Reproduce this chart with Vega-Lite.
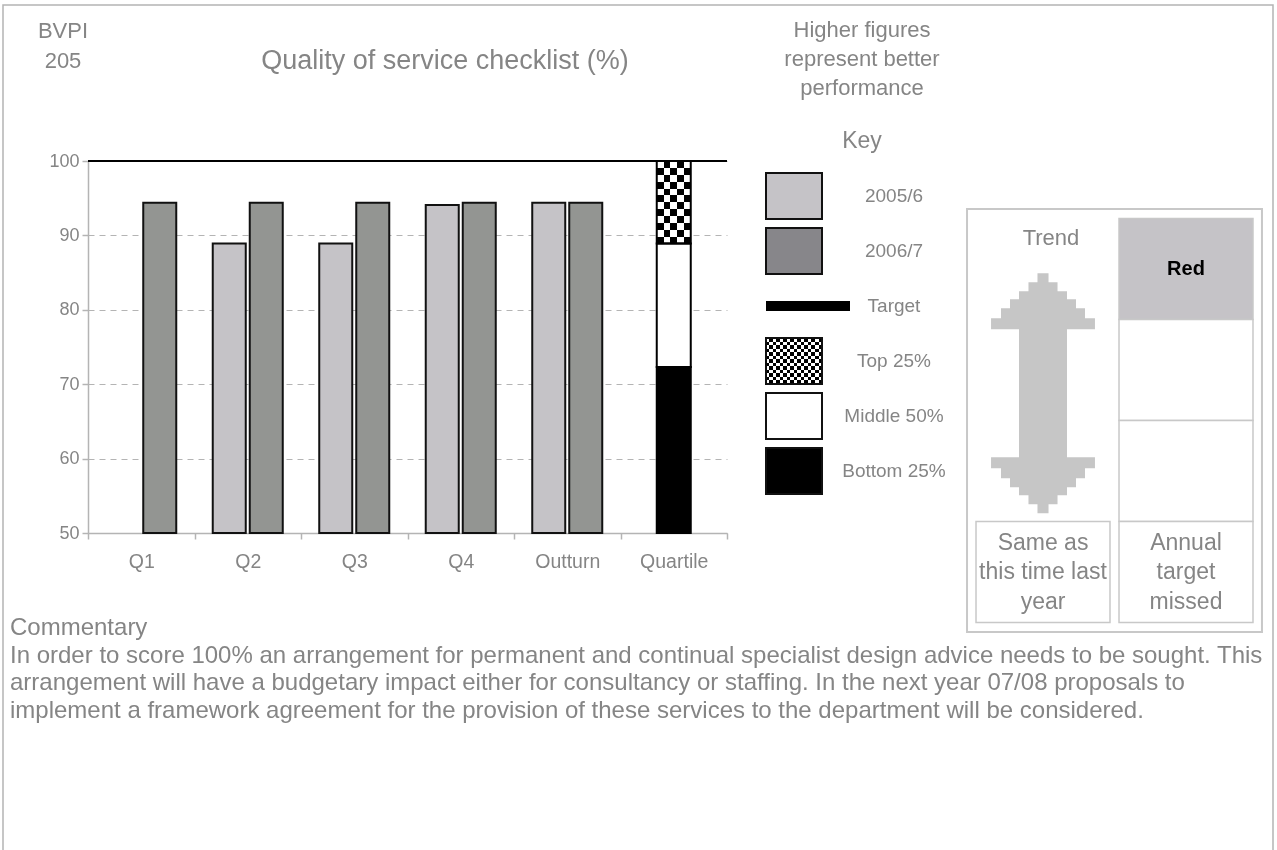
{
  "$schema": "https://vega.github.io/schema/vega-lite/v6.json",
  "width": 1277,
  "height": 850,
  "autosize": {"type": "none"},
  "padding": 0,
  "background": "white",
  "config": {
    "view": {"stroke": null},
    "font": "Liberation Sans",
    "text": {"font": "Liberation Sans", "fill": "#858585"}
  },
  "datasets": {
    "performance": [
      {"period": "Q1", "year": "2006/7", "value": 94.4},
      {"period": "Q2", "year": "2005/6", "value": 88.9},
      {"period": "Q2", "year": "2006/7", "value": 94.4},
      {"period": "Q3", "year": "2005/6", "value": 88.9},
      {"period": "Q3", "year": "2006/7", "value": 94.4},
      {"period": "Q4", "year": "2005/6", "value": 94.1},
      {"period": "Q4", "year": "2006/7", "value": 94.4},
      {"period": "Outturn", "year": "2005/6", "value": 94.4},
      {"period": "Outturn", "year": "2006/7", "value": 94.4}
    ],
    "quartile": [
      {"period": "Quartile", "band": "Bottom 25%", "from": 50, "to": 72.3},
      {"period": "Quartile", "band": "Middle 50%", "from": 72.3, "to": 88.9},
      {"period": "Quartile", "band": "Top 25%", "from": 88.9, "to": 100}
    ],
    "target": [{"target": 100}],
    "key": [
      {"item": "2005/6"},
      {"item": "2006/7"},
      {"item": "Target"},
      {"item": "Top 25%"},
      {"item": "Middle 50%"},
      {"item": "Bottom 25%"}
    ],
    "trendcells": [
      {"column": "Trend", "row": "4", "label": "Same as\nthis time last\nyear"},
      {"column": "Target", "row": "1", "label": "Red"},
      {"column": "Target", "row": "2", "label": ""},
      {"column": "Target", "row": "3", "label": ""},
      {"column": "Target", "row": "4", "label": "Annual\ntarget\nmissed"}
    ],
    "trend": [{"trend": "Same as this time last year"}],
    "notes": [
      {"text": "Commentary\nIn order to score 100% an arrangement for permanent and continual specialist design advice needs to be sought. This\narrangement will have a budgetary impact either for consultancy or staffing. In the next year 07/08 proposals to\nimplement a framework agreement for the provision of these services to the department will be considered."}
    ]
  },
  "layer": [
    {
      "data": {"name": "performance"},
      "mark": {"type": "bar", "stroke": "#111111", "strokeWidth": 2},
      "encoding": {
        "x": {
          "field": "period", "type": "nominal",
          "scale": {"domain": ["Q1", "Q2", "Q3", "Q4", "Outturn", "Quartile"], "range": [88, 727], "paddingInner": 0, "paddingOuter": 0},
          "axis": {"title": null, "orient": "bottom", "offset": -317, "tickBand": "extent", "labelAngle": 0, "labelColor": "#858585", "labelFont": "Liberation Sans", "labelFontSize": 19.5, "labelPadding": 13, "domainColor": "#b4b4b4", "domainWidth": 1.5, "tickColor": "#b4b4b4", "tickWidth": 1.5, "tickSize": 6, "grid": false}
        },
        "xOffset": {"field": "year", "type": "nominal", "scale": {"domain": ["2005/6", "2006/7"], "paddingInner": 0.108, "paddingOuter": 0.493}},
        "y": {
          "field": "value", "type": "quantitative",
          "scale": {"domain": [50, 100], "range": [533, 161], "nice": false, "zero": false},
          "axis": {"title": null, "orient": "left", "offset": -88, "values": [50, 60, 70, 80, 90, 100], "grid": true, "gridDash": [6, 5], "gridColor": "#b4b4b4", "gridWidth": 1, "labelColor": "#858585", "labelFont": "Liberation Sans", "labelFontSize": 18, "labelPadding": 3, "domainColor": "#b4b4b4", "domainWidth": 1.5, "tickColor": "#b4b4b4", "tickWidth": 1.5, "tickSize": 6}
        },
        "y2": {"datum": 50},
        "fill": {"field": "year", "type": "nominal", "scale": {"domain": ["2005/6", "2006/7"], "range": ["#c5c3c7", "#939592"]}, "legend": null}
      }
    },
    {
      "data": {"name": "quartile"},
      "mark": {"type": "bar", "width": 34, "strokeWidth": 0},
      "encoding": {
        "x": {"field": "period", "type": "nominal", "scale": {"domain": ["Q1", "Q2", "Q3", "Q4", "Outturn", "Quartile"], "range": [88, 727], "paddingInner": 0, "paddingOuter": 0}, "axis": null},
        "y": {"field": "to", "type": "quantitative", "scale": {"domain": [50, 100], "range": [533, 161], "nice": false, "zero": false}, "axis": null},
        "y2": {"field": "from"},
        "fill": {"field": "band", "type": "nominal", "scale": {"domain": ["Top 25%", "Middle 50%", "Bottom 25%"], "range": ["#ffffff", "#ffffff", "#000000"]}, "legend": null}
      }
    },
    {
      "data": {"name": "quartile"},
      "transform": [{"filter": "datum.band === 'Top 25%'"}],
      "mark": {
        "type": "bar", "width": 34, "strokeWidth": 0,
        "fill": {"gradient": "linear", "x1": 0, "y1": 0, "x2": 0, "y2": 1, "stops": [
          {"offset": 0, "color": "#000000"}, {"offset": 0.0833, "color": "#000000"},
          {"offset": 0.0833, "color": "#ffffff"}, {"offset": 0.1667, "color": "#ffffff"},
          {"offset": 0.1667, "color": "#000000"}, {"offset": 0.25, "color": "#000000"},
          {"offset": 0.25, "color": "#ffffff"}, {"offset": 0.3333, "color": "#ffffff"},
          {"offset": 0.3333, "color": "#000000"}, {"offset": 0.4167, "color": "#000000"},
          {"offset": 0.4167, "color": "#ffffff"}, {"offset": 0.5, "color": "#ffffff"},
          {"offset": 0.5, "color": "#000000"}, {"offset": 0.5833, "color": "#000000"},
          {"offset": 0.5833, "color": "#ffffff"}, {"offset": 0.6667, "color": "#ffffff"},
          {"offset": 0.6667, "color": "#000000"}, {"offset": 0.75, "color": "#000000"},
          {"offset": 0.75, "color": "#ffffff"}, {"offset": 0.8333, "color": "#ffffff"},
          {"offset": 0.8333, "color": "#000000"}, {"offset": 0.9167, "color": "#000000"},
          {"offset": 0.9167, "color": "#ffffff"}, {"offset": 1, "color": "#ffffff"}
        ]}
      },
      "encoding": {
        "x": {"field": "period", "type": "nominal", "scale": {"domain": ["Q1", "Q2", "Q3", "Q4", "Outturn", "Quartile"], "range": [88, 727], "paddingInner": 0, "paddingOuter": 0}, "axis": null},
        "y": {"field": "to", "type": "quantitative", "scale": {"domain": [50, 100], "range": [533, 161], "nice": false, "zero": false}, "axis": null},
        "y2": {"field": "from"}
      }
    },
    {
      "data": {"name": "quartile"},
      "transform": [{"filter": "datum.band === 'Top 25%'"}],
      "mark": {
        "type": "bar", "width": 34, "strokeWidth": 0, "blend": "difference",
        "fill": {"gradient": "linear", "x1": 0, "y1": 0, "x2": 1, "y2": 0, "stops": [
          {"offset": 0, "color": "#ffffff"}, {"offset": 0.2, "color": "#ffffff"},
          {"offset": 0.2, "color": "#000000"}, {"offset": 0.4, "color": "#000000"},
          {"offset": 0.4, "color": "#ffffff"}, {"offset": 0.6, "color": "#ffffff"},
          {"offset": 0.6, "color": "#000000"}, {"offset": 0.8, "color": "#000000"},
          {"offset": 0.8, "color": "#ffffff"}, {"offset": 1, "color": "#ffffff"}
        ]}
      },
      "encoding": {
        "x": {"field": "period", "type": "nominal", "scale": {"domain": ["Q1", "Q2", "Q3", "Q4", "Outturn", "Quartile"], "range": [88, 727], "paddingInner": 0, "paddingOuter": 0}, "axis": null},
        "y": {"field": "to", "type": "quantitative", "scale": {"domain": [50, 100], "range": [533, 161], "nice": false, "zero": false}, "axis": null},
        "y2": {"field": "from"}
      }
    },
    {
      "data": {"name": "quartile"},
      "mark": {"type": "bar", "width": 34, "fill": "#ffffff", "fillOpacity": 0, "stroke": "#000000", "strokeWidth": 2},
      "encoding": {
        "x": {"field": "period", "type": "nominal", "scale": {"domain": ["Q1", "Q2", "Q3", "Q4", "Outturn", "Quartile"], "range": [88, 727], "paddingInner": 0, "paddingOuter": 0}, "axis": null},
        "y": {"field": "to", "type": "quantitative", "scale": {"domain": [50, 100], "range": [533, 161], "nice": false, "zero": false}, "axis": null},
        "y2": {"field": "from"}
      }
    },
    {
      "data": {"name": "target"},
      "mark": {"type": "rule", "color": "#000000", "strokeWidth": 2},
      "encoding": {
        "x": {"datum": "Q1", "type": "nominal", "bandPosition": 0, "scale": {"domain": ["Q1", "Q2", "Q3", "Q4", "Outturn", "Quartile"], "range": [88, 727], "paddingInner": 0, "paddingOuter": 0}, "axis": null},
        "x2": {"datum": "Quartile", "bandPosition": 1},
        "y": {"field": "target", "type": "quantitative", "scale": {"domain": [50, 100], "range": [533, 161], "nice": false, "zero": false}, "axis": null}
      }
    },
    {
      "data": {"values": [{}]},
      "mark": {"type": "rect", "fill": "#ffffff", "fillOpacity": 0, "stroke": "#b4b4b4", "strokeWidth": 1.5},
      "encoding": {"x": {"value": 3}, "y": {"value": 5}, "x2": {"value": 1273}, "y2": {"value": 880}}
    },
    {
      "data": {"values": [{}]},
      "mark": {"type": "text", "text": ["BVPI", "205"], "align": "center", "baseline": "middle", "fontSize": 22, "lineHeight": 30, "fill": "#858585"},
      "encoding": {"x": {"value": 63}, "y": {"value": 31}}
    },
    {
      "data": {"values": [{}]},
      "mark": {"type": "text", "text": "Quality of service checklist (%)", "align": "center", "baseline": "middle", "fontSize": 27, "fill": "#858585"},
      "encoding": {"x": {"value": 445}, "y": {"value": 61}}
    },
    {
      "data": {"values": [{}]},
      "mark": {"type": "text", "text": ["Higher figures", "represent better", "performance"], "align": "center", "baseline": "middle", "fontSize": 22, "lineHeight": 29, "fill": "#858585"},
      "encoding": {"x": {"value": 862}, "y": {"value": 30}}
    },
    {
      "data": {"values": [{}]},
      "mark": {"type": "text", "text": "Key", "align": "center", "baseline": "middle", "fontSize": 23, "fill": "#858585"},
      "encoding": {"x": {"value": 862}, "y": {"value": 141}}
    },
    {
      "data": {"name": "notes"},
      "mark": {"type": "text", "align": "left", "baseline": "middle", "fontSize": 24, "lineHeight": 27.5, "lineBreak": "\n", "fill": "#858585"},
      "encoding": {"x": {"value": 10}, "y": {"value": 628}, "text": {"field": "text", "type": "nominal"}}
    },
    {
      "data": {"name": "key"},
      "resolve": {"scale": {"fill": "independent"}},
      "layer": [
        {
          "transform": [{"filter": "datum.item !== 'Target'"}],
          "mark": {"type": "rect", "strokeWidth": 0},
          "encoding": {
            "x": {"datum": "swatch", "type": "nominal", "scale": {"type": "band", "domain": ["swatch", "label"], "range": [766, 922], "paddingInner": 0.44, "paddingOuter": 0}, "axis": null},
            "y": {"field": "item", "type": "nominal", "scale": {"type": "band", "domain": ["2005/6", "2006/7", "Target", "Top 25%", "Middle 50%", "Bottom 25%"], "range": [161, 533], "paddingInner": 0.1636, "paddingOuter": 0.4636, "align": 0.235}, "axis": null},
            "fill": {"field": "item", "type": "nominal", "scale": {"domain": ["2005/6", "2006/7", "Target", "Top 25%", "Middle 50%", "Bottom 25%"], "range": ["#c5c3c7", "#87868a", "#000000", "#ffffff", "#ffffff", "#000000"]}, "legend": null}
          }
        },
        {
          "transform": [{"filter": "datum.item === 'Top 25%'"}],
          "mark": {
            "type": "rect", "strokeWidth": 0,
            "fill": {"gradient": "linear", "x1": 0, "y1": 0, "x2": 0, "y2": 1, "stops": [
              {"offset": 0, "color": "#000000"}, {"offset": 0.0769, "color": "#000000"},
              {"offset": 0.0769, "color": "#ffffff"}, {"offset": 0.1538, "color": "#ffffff"},
              {"offset": 0.1538, "color": "#000000"}, {"offset": 0.2308, "color": "#000000"},
              {"offset": 0.2308, "color": "#ffffff"}, {"offset": 0.3077, "color": "#ffffff"},
              {"offset": 0.3077, "color": "#000000"}, {"offset": 0.3846, "color": "#000000"},
              {"offset": 0.3846, "color": "#ffffff"}, {"offset": 0.4615, "color": "#ffffff"},
              {"offset": 0.4615, "color": "#000000"}, {"offset": 0.5385, "color": "#000000"},
              {"offset": 0.5385, "color": "#ffffff"}, {"offset": 0.6154, "color": "#ffffff"},
              {"offset": 0.6154, "color": "#000000"}, {"offset": 0.6923, "color": "#000000"},
              {"offset": 0.6923, "color": "#ffffff"}, {"offset": 0.7692, "color": "#ffffff"},
              {"offset": 0.7692, "color": "#000000"}, {"offset": 0.8462, "color": "#000000"},
              {"offset": 0.8462, "color": "#ffffff"}, {"offset": 0.9231, "color": "#ffffff"},
              {"offset": 0.9231, "color": "#000000"}, {"offset": 1, "color": "#000000"}
            ]}
          },
          "encoding": {
            "x": {"datum": "swatch", "type": "nominal", "axis": null},
            "y": {"field": "item", "type": "nominal", "axis": null}
          }
        },
        {
          "transform": [{"filter": "datum.item === 'Top 25%'"}],
          "mark": {
            "type": "rect", "strokeWidth": 0, "blend": "difference",
            "fill": {"gradient": "linear", "x1": 0, "y1": 0, "x2": 1, "y2": 0, "stops": [
              {"offset": 0, "color": "#ffffff"}, {"offset": 0.0625, "color": "#ffffff"},
              {"offset": 0.0625, "color": "#000000"}, {"offset": 0.125, "color": "#000000"},
              {"offset": 0.125, "color": "#ffffff"}, {"offset": 0.1875, "color": "#ffffff"},
              {"offset": 0.1875, "color": "#000000"}, {"offset": 0.25, "color": "#000000"},
              {"offset": 0.25, "color": "#ffffff"}, {"offset": 0.3125, "color": "#ffffff"},
              {"offset": 0.3125, "color": "#000000"}, {"offset": 0.375, "color": "#000000"},
              {"offset": 0.375, "color": "#ffffff"}, {"offset": 0.4375, "color": "#ffffff"},
              {"offset": 0.4375, "color": "#000000"}, {"offset": 0.5, "color": "#000000"},
              {"offset": 0.5, "color": "#ffffff"}, {"offset": 0.5625, "color": "#ffffff"},
              {"offset": 0.5625, "color": "#000000"}, {"offset": 0.625, "color": "#000000"},
              {"offset": 0.625, "color": "#ffffff"}, {"offset": 0.6875, "color": "#ffffff"},
              {"offset": 0.6875, "color": "#000000"}, {"offset": 0.75, "color": "#000000"},
              {"offset": 0.75, "color": "#ffffff"}, {"offset": 0.8125, "color": "#ffffff"},
              {"offset": 0.8125, "color": "#000000"}, {"offset": 0.875, "color": "#000000"},
              {"offset": 0.875, "color": "#ffffff"}, {"offset": 0.9375, "color": "#ffffff"},
              {"offset": 0.9375, "color": "#000000"}, {"offset": 1, "color": "#000000"}
            ]}
          },
          "encoding": {
            "x": {"datum": "swatch", "type": "nominal", "axis": null},
            "y": {"field": "item", "type": "nominal", "axis": null}
          }
        },
        {
          "transform": [{"filter": "datum.item !== 'Target'"}],
          "mark": {"type": "rect", "fill": "#ffffff", "fillOpacity": 0, "stroke": "#111111", "strokeWidth": 2},
          "encoding": {
            "x": {"datum": "swatch", "type": "nominal", "axis": null},
            "y": {"field": "item", "type": "nominal", "axis": null}
          }
        },
        {
          "transform": [{"filter": "datum.item === 'Target'"}],
          "mark": {"type": "rule", "color": "#000000", "strokeWidth": 10},
          "encoding": {
            "x": {"datum": "swatch", "type": "nominal", "bandPosition": 0, "axis": null},
            "x2": {"datum": "swatch", "bandPosition": 1.5},
            "y": {"field": "item", "type": "nominal", "axis": null}
          }
        },
        {
          "mark": {"type": "text", "align": "center", "baseline": "middle", "fontSize": 19, "fill": "#858585"},
          "encoding": {
            "x": {"datum": "label", "type": "nominal", "axis": null},
            "y": {"field": "item", "type": "nominal", "axis": null},
            "text": {"field": "item", "type": "nominal"}
          }
        }
      ]
    },
    {
      "data": {"name": "trendcells"},
      "layer": [
        {
          "data": {"values": [{}]},
          "mark": {"type": "rect", "fill": "#ffffff", "fillOpacity": 0, "stroke": "#c8c8c8", "strokeWidth": 2},
          "encoding": {
            "x": {"datum": "Trend", "type": "nominal", "bandPosition": -0.067, "scale": {"type": "band", "domain": ["Trend", "Target"], "range": [967, 1262], "paddingInner": 0.063, "paddingOuter": 0.063}, "axis": null},
            "x2": {"datum": "Target", "bandPosition": 1.067},
            "y": {"datum": "1", "type": "nominal", "bandPosition": -0.094, "scale": {"type": "band", "domain": ["1", "2", "3", "4"], "range": [209, 632], "paddingInner": 0, "paddingOuter": 0.094}, "axis": null},
            "y2": {"datum": "4", "bandPosition": 1.094}
          }
        },
        {
          "mark": {"type": "rect", "stroke": "#c8c8c8", "strokeWidth": 1.5},
          "encoding": {
            "x": {"field": "column", "type": "nominal", "axis": null},
            "y": {"field": "row", "type": "nominal", "axis": null},
            "fill": {"condition": {"test": "datum.label === 'Red'", "value": "#c5c3c7"}, "value": "#ffffff"}
          }
        },
        {
          "data": {"values": [{}]},
          "mark": {"type": "text", "text": "Trend", "align": "center", "baseline": "middle", "dx": 8, "fontSize": 22, "fill": "#858585"},
          "encoding": {
            "x": {"datum": "Trend", "type": "nominal", "axis": null},
            "y": {"datum": "1", "type": "nominal", "bandPosition": 0.19, "axis": null}
          }
        },
        {
          "data": {"name": "trend"},
          "mark": {
            "type": "point", "filled": true, "fill": "#c6c6c6", "fillOpacity": 1, "strokeWidth": 0, "size": 57600, "dx": 3,
            "shape": "M-0.046,-1L0.046,-1L0.046,-0.925L0.121,-0.925L0.121,-0.85L0.2,-0.85L0.2,-0.783L0.275,-0.783L0.275,-0.708L0.35,-0.708L0.35,-0.625L0.433,-0.625L0.433,-0.533L0.2,-0.533L0.2,0.533L0.433,0.533L0.433,0.625L0.35,0.625L0.35,0.708L0.275,0.708L0.275,0.783L0.2,0.783L0.2,0.85L0.121,0.85L0.121,0.925L0.046,0.925L0.046,1L-0.046,1L-0.046,0.925L-0.121,0.925L-0.121,0.85L-0.2,0.85L-0.2,0.783L-0.275,0.783L-0.275,0.708L-0.35,0.708L-0.35,0.625L-0.433,0.625L-0.433,0.533L-0.2,0.533L-0.2,-0.533L-0.433,-0.533L-0.433,-0.625L-0.35,-0.625L-0.35,-0.708L-0.275,-0.708L-0.275,-0.783L-0.2,-0.783L-0.2,-0.85L-0.121,-0.85L-0.121,-0.925L-0.046,-0.925Z"
          },
          "encoding": {
            "x": {"datum": "Trend", "type": "nominal", "axis": null},
            "y": {"datum": "2", "type": "nominal", "bandPosition": 0.73, "axis": null}
          }
        },
        {
          "transform": [{"filter": "datum.label !== 'Red'"}],
          "mark": {"type": "text", "align": "center", "baseline": "middle", "dy": -29.5, "fontSize": 23, "lineHeight": 29.5, "lineBreak": "\n", "fill": "#858585"},
          "encoding": {
            "x": {"field": "column", "type": "nominal", "axis": null},
            "y": {"field": "row", "type": "nominal", "axis": null},
            "text": {"field": "label", "type": "nominal"}
          }
        },
        {
          "transform": [{"filter": "datum.label === 'Red'"}],
          "mark": {"type": "text", "align": "center", "baseline": "middle", "fontSize": 20, "fontWeight": "bold", "fill": "#000000"},
          "encoding": {
            "x": {"field": "column", "type": "nominal", "axis": null},
            "y": {"field": "row", "type": "nominal", "axis": null},
            "text": {"field": "label", "type": "nominal"}
          }
        }
      ]
    }
  ],
  "resolve": {"scale": {"x": "independent", "y": "independent", "fill": "independent"}}
}
